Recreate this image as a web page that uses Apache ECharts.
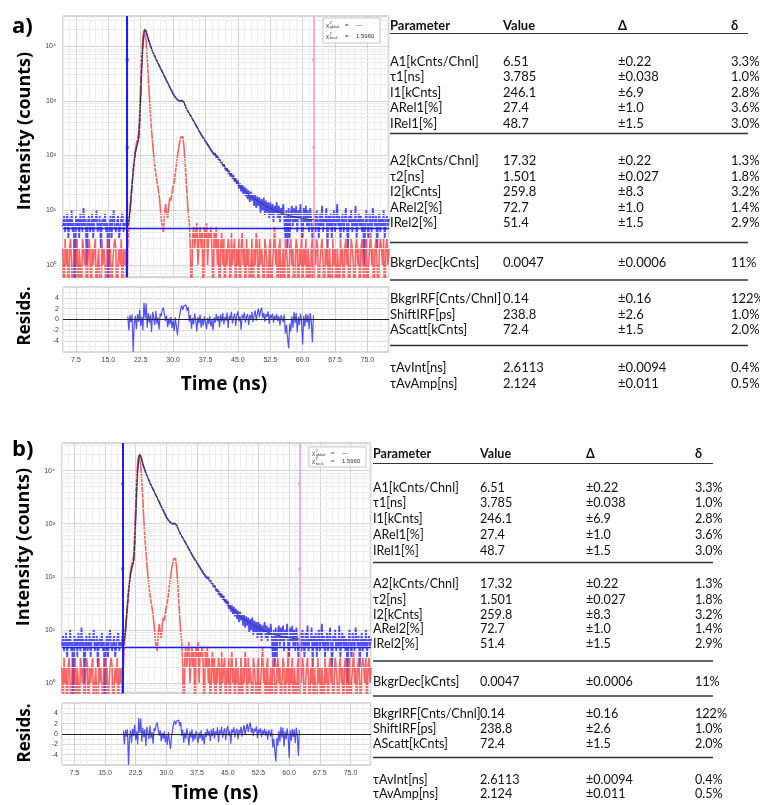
<!DOCTYPE html>
<html>
<head>
<meta charset="utf-8">
<script src="https://cdn.jsdelivr.net/npm/echarts@6/dist/echarts.min.js"></script>
<style>
  html, body { margin: 0; padding: 0; background: #fff; }
  #chart { width: 760px; height: 805px; }
</style>
</head>
<body>
<div id="chart"></div>
<script>
// ---- Histogram channels (TCSPC decay and instrument response) ----
const channelStart = 4.5;   // ns, time of the first channel
const channelWidth = 0.25;  // ns per channel

// Decay counts per channel, 4.5 ns ... 80.0 ns (8 channels = 2 ns per row)
const decayCounts = [
  5, 8, 4, 6, 9, 3, 7, 5,
  10, 4, 6, 0, 8, 5, 7, 3,
  9, 6, 4, 11, 5, 7, 1, 6,
  8, 4, 5, 9, 3, 7, 6, 10,
  4, 5, 8, 2, 6, 7, 5, 9,
  4, 6, 0, 5, 8, 3, 7, 10,
  5, 4, 6, 8, 3, 5, 7, 9,
  4, 6, 5, 8, 6, 7, 10, 17,
  29, 52, 77, 115, 138, 170, 196, 405,
  1310, 4480, 10450, 17350, 20500, 18550, 15850, 13450,
  11650, 10250, 8950, 8030, 7210, 6560, 5860, 5400,
  4880, 4490, 4050, 3740, 3370, 3110, 2800, 2590,
  2320, 2160, 1930, 1800, 1600, 1500, 1330, 1280,
  1160, 1130, 1045, 1040, 985, 1020, 1005, 1040,
  940, 870, 745, 705, 620, 600, 540, 515,
  462, 441, 391, 373, 332, 318, 283, 270,
  239, 236, 207, 206, 181, 180, 156, 157,
  135, 140, 117, 124, 102, 111, 91, 100,
  83, 91, 72, 79, 64, 71, 59, 53,
  60, 46, 53, 41, 48, 37, 44, 33,
  39, 29, 35, 25, 31, 22, 29, 20,
  27, 18, 25, 16, 23, 14, 22, 15,
  20, 12, 19, 11, 18, 12, 17, 9,
  16, 10, 17, 8, 15, 9, 14, 7,
  14, 8, 13, 6, 12, 9, 14, 7,
  12, 6, 11, 8, 13, 7, 3, 10,
  2, 11, 3, 9, 12, 5, 11, 6,
  12, 4, 10, 7, 13, 5, 3, 11,
  6, 12, 5, 10, 4, 11, 7, 3,
  5, 9, 4, 10, 6, 3, 9, 5,
  12, 4, 7, 6, 11, 2, 8, 5,
  9, 3, 7, 10, 4, 6, 13, 5,
  8, 3, 6, 9, 4, 7, 11, 5,
  2, 8, 6, 10, 4, 7, 5, 12,
  3, 6, 9, 5, 8, 4, 7, 1,
  6, 10, 5, 3, 9, 6, 4, 11,
  7, 5, 8, 2, 6, 9, 4, 7,
  5, 10, 3, 6, 8, 5, 7
];

// Instrument response (IRF) counts on the same channels
const irfCounts = [
  2, 0, 3, 1, 2, 0, 2, 3,
  1, 0, 2, 2, 1, 3, 0, 2,
  1, 0, 3, 2, 1, 2, 0, 1,
  3, 2, 0, 2, 1, 2, 3, 0,
  1, 2, 2, 0, 3, 1, 2, 1,
  0, 2, 3, 1, 2, 0, 1, 2,
  3, 2, 0, 1, 2, 1, 3, 0,
  2, 1, 2, 0, 2, 5, 9, 16,
  30, 52, 85, 125, 165, 200, 250, 600,
  2300, 7000, 14500, 19800, 19000, 12500, 6000, 3000,
  1200, 550, 300, 170, 100, 66, 46, 34,
  26, 19, 12, 7, 5, 4, 8, 13,
  9, 7, 12, 17, 15, 21, 27, 33,
  46, 68, 95, 135, 175, 215, 228, 222,
  150, 80, 38, 19, 9, 6, 2, 0,
  3, 5, 2, 4, 6, 1, 3, 5,
  2, 4, 0, 5, 3, 6, 1, 4,
  3, 5, 2, 0, 4, 2, 5, 1,
  3, 0, 2, 4, 1, 3, 0, 2,
  1, 3, 2, 0, 4, 1, 2, 3,
  0, 2, 1, 3, 0, 2, 4, 1,
  2, 0, 3, 1, 2, 0, 1, 3,
  0, 2, 1, 4, 2, 0, 3, 1,
  2, 1, 0, 3, 2, 1, 0, 2,
  3, 0, 1, 2, 5, 1, 2, 0,
  2, 3, 0, 1, 2, 0, 3, 2,
  1, 0, 2, 3, 1, 2, 0, 1,
  3, 2, 0, 2, 1, 4, 0, 2,
  1, 3, 0, 2, 1, 0, 2, 3,
  0, 2, 1, 3, 2, 0, 1, 2,
  3, 1, 0, 2, 1, 3, 0, 2,
  2, 0, 3, 1, 2, 0, 2, 1,
  0, 3, 1, 2, 0, 2, 3, 1,
  2, 0, 1, 3, 2, 1, 0, 2,
  3, 1, 2, 0, 2, 3, 1, 0,
  2, 3, 0, 1, 2, 4, 1, 2,
  0, 2, 3, 1, 0, 2, 3, 2,
  1, 3, 0, 2, 3, 1, 2
];

// Fit window (19.5 ns ... 62.5 ns): model counts and weighted residuals
const fitStart = 19.5;
const fitCounts = [
  5.0, 6.0, 9.5, 16.6, 29.5, 50, 79, 112,
  141, 166, 200, 398, 1320, 4470, 10500, 17400,
  20400, 18600, 15800, 13500, 11700, 10200, 9000, 8000,
  7240, 6530, 5890, 5370, 4900, 4470, 4070, 3720,
  3390, 3090, 2820, 2570, 2340, 2140, 1950, 1780,
  1620, 1480, 1350, 1260, 1175, 1110, 1060, 1023,
  1000, 1000, 1023, 1023, 955, 851, 759, 692,
  631, 589, 550, 507, 468, 432, 398, 367,
  339, 313, 288, 266, 245, 229, 214, 200,
  186, 174, 162, 151, 141, 132, 123, 116,
  110, 104, 97.7, 92.3, 87.1, 82.2, 77.6, 73.3,
  69.2, 65.3, 61.7, 58.2, 55.0, 51.9, 49.0, 46.2,
  43.7, 41.2, 38.9, 36.7, 34.7, 32.7, 30.9, 29.2,
  27.5, 26.3, 25.1, 24.0, 22.9, 21.9, 20.9, 20.0,
  19.3, 18.6, 18.0, 17.4, 16.8, 16.2, 15.7, 15.1,
  14.8, 14.5, 14.1, 13.6, 13.2, 12.9, 12.6, 12.2,
  11.9, 11.6, 11.4, 11.1, 10.8, 10.6, 10.4, 10.1,
  9.9, 9.7, 9.5, 9.3, 9.2, 9.1, 8.9, 8.8,
  8.6, 8.5, 8.4, 8.2, 8.1, 8.0, 7.9, 7.9,
  7.8, 7.7, 7.6, 7.5, 7.4, 7.4, 7.3, 7.2,
  7.2, 7.1, 7.1, 7.0, 7.0, 6.95, 6.9, 6.85,
  6.8, 6.8, 6.75, 6.7, 6.7
];
const residuals = [
  0.6, -2.0, 0.8, -0.5, 0.9, -6.0, -0.8, 0.7,
  -1.8, 1.0, -0.4, 1.8, -1.2, 0.5, -2.0, 3.1,
  0.2, 3.0, -1.5, 1.2, -0.6, 0.9, -2.3, 1.4,
  0.3, -1.0, 1.6, -0.8, 0.4, -1.9, 1.1, 0.6,
  1.8, 2.2, 1.0, -0.3, 0.7, -1.4, 0.2, -0.9,
  0.5, -1.6, -0.2, -2.1, 0.4, -1.2, -2.9, -0.5,
  0.6, 1.9, 2.6, 1.8, 2.5, 2.2, 2.7, 1.6,
  2.3, -0.4, 0.8, -1.7, 0.3, -0.9, 1.1, -0.2,
  -2.2, 0.5, -0.7, 0.9, -1.5, 0.1, -1.1, 0.6,
  -0.5, -1.8, 0.3, -0.8, 0.7, -1.3, -0.1, -2.0,
  0.4, -0.6, 1.0, -0.3, 0.6, -1.4, 0.9, -0.4,
  1.2, -0.9, 0.5, -0.2, 1.3, -1.6, 0.7, 0.1,
  1.4, -0.7, 0.4, 1.1, -1.2, 0.8, 1.5, -0.3,
  0.6, -1.9, 0.9, 0.2, 1.3, -0.6, 0.5, 1.0,
  -1.0, 0.8, 0.1, 1.4, -0.5, 0.7, 1.7, -0.2,
  1.1, 2.0, 0.4, 1.6, 2.2, 0.3, 1.2, -0.4,
  1.0, 0.5, 1.5, -0.8, 0.9, 0.2, 1.1, -0.6,
  0.7, 0.0, 1.0, -0.3, 0.6, -1.1, 0.8, 0.3,
  -0.5, 0.9, -2.6, -1.0, -3.4, -5.3, -0.8, -2.2,
  0.6, -1.5, 1.4, -0.7, 1.2, -2.4, 0.5, -1.0,
  1.1, -0.4, -4.6, 0.7, -1.3, 1.0, -0.6, 0.9,
  -1.8, 1.2, -0.3, -4.2, 0.8
];

// Fit range cursors, their handles and the decay background level
const cursorTimes = [19.35, 62.55];
const cursorHandleCounts = [5600, 140];
const backgroundCounts = 4.7;

// Axes
const timeTickStep = 7.5;
const timeMinorStep = 1.5;
const intensityDecades = [0, 1, 2, 3, 4];
const residTicks = [-4, -2, 0, 2, 4];

// Goodness of fit
const chiGlobal = '---';
const chiLocal = '1.5960';

// Fit parameter table
const tableHeaders = ['Parameter', 'Value', 'Δ', 'δ'];
const paramNames = ['A1[kCnts/Chnl]', 'τ1[ns]', 'I1[kCnts]', 'ARel1[%]', 'IRel1[%]',
  'A2[kCnts/Chnl]', 'τ2[ns]', 'I2[kCnts]', 'ARel2[%]', 'IRel2[%]',
  'BkgrDec[kCnts]', 'BkgrIRF[Cnts/Chnl]', 'ShiftIRF[ps]', 'AScatt[kCnts]',
  'τAvInt[ns]', 'τAvAmp[ns]'];
const paramValues = ['6.51', '3.785', '246.1', '27.4', '48.7',
  '17.32', '1.501', '259.8', '72.7', '51.4',
  '0.0047', '0.14', '238.8', '72.4', '2.6113', '2.124'];
const paramErrors = ['±0.22', '±0.038', '±6.9', '±1.0', '±1.5',
  '±0.22', '±0.027', '±8.3', '±1.0', '±1.5',
  '±0.0006', '±0.16', '±2.6', '±1.5', '±0.0094', '±0.011'];
const paramRelErrors = ['3.3%', '1.0%', '2.8%', '3.6%', '3.0%',
  '1.3%', '1.8%', '3.2%', '1.4%', '2.9%',
  '11%', '122%', '1.0%', '2.0%', '0.4%', '0.5%'];

// ---- Layout ----
const panels = [
  {
    letter: 'a)', letterPos: [12, 27],
    main: { left: 63, top: 16, width: 326, height: 261 },
    resid: { left: 63, top: 287, width: 326, height: 65 },
    yRange: [-0.22, 4.55],
    yTitle: [24.5, 131], residTitle: [25, 316], xTitle: [224, 385],
    chiBox: { x: 323, y: 18, w: 57, h: 25 },
    table: {
      cols: [390, 503, 618, 731], right: 748, headerY: 26, headerRule: 33.5, fontSize: 13,
      rowY: [61.5, 77, 92.5, 108, 123.5, 161, 176.5, 192, 207.5, 223, 262.5, 299, 314.5, 330, 368, 383.5],
      rules: [133.5, 242.5, 280, 345.5]
    }
  },
  {
    letter: 'b)', letterPos: [12, 450],
    main: { left: 62, top: 443, width: 309, height: 250 },
    resid: { left: 62, top: 703, width: 309, height: 62 },
    yRange: [-0.19, 4.52],
    yTitle: [24, 547], residTitle: [25, 733], xTitle: [215, 794],
    chiBox: { x: 309, y: 447, w: 57, h: 20 },
    table: {
      cols: [373, 480, 586, 695], right: 713, headerY: 454, headerRule: 463.5, fontSize: 12.6,
      rowY: [487.5, 503, 518.5, 534.5, 550.5, 584, 599.5, 615, 629, 644, 681.5, 713.5, 728.5, 744, 780, 793.5],
      rules: [562.5, 661, 696, 757.5]
    }
  }
];

const lg = v => (v > 0 ? Math.log10(v) : -1);
const channelTime = i => channelStart + i * channelWidth;
const fitTime = i => fitStart + i * channelWidth;
const decayPts = decayCounts.map((c, i) => [channelTime(i), lg(c)]);
const irfPts = irfCounts.map((c, i) => [channelTime(i), lg(c)]);
const fitPts = fitCounts.map((c, i) => [fitTime(i), lg(c)]);
const residPts = residuals.map((r, i) => [fitTime(i), r]);

const supDigits = ['⁰', '¹', '²', '³', '⁴'];
const isMajorTime = v => Math.abs(v / timeTickStep - Math.round(v / timeTickStep)) < 1e-6;
// grid line colours cycle from 4.5 ns: every fifth line (7.5 ns steps) is darker
const timeGridColors = ['#eeeeee', '#eeeeee', '#d2d2d2', '#eeeeee', '#eeeeee'];

const labelFont = { fontFamily: 'Liberation Sans', fontSize: 7, color: '#444' };

const grids = [], xAxes = [], yAxes = [], series = [], graphics = [];

panels.forEach((p, k) => {
  const gi = grids.length;
  grids.push(Object.assign({ show: true, borderColor: '#b0b0b0', borderWidth: 1, containLabel: false }, p.main));
  grids.push(Object.assign({ show: true, borderColor: '#b0b0b0', borderWidth: 1, containLabel: false }, p.resid));

  const xBase = {
    type: 'value', min: channelStart, max: 80, interval: timeMinorStep,
    axisLine: { show: false }, axisTick: { show: false },
    splitLine: { show: true, lineStyle: { color: timeGridColors, width: 1 } }
  };
  xAxes.push(Object.assign({ gridIndex: gi, axisLabel: { show: false } }, xBase));
  xAxes.push(Object.assign({
    gridIndex: gi + 1,
    axisLabel: Object.assign({
      margin: 5, showMinLabel: true, showMaxLabel: true,
      formatter: v => (isMajorTime(v) && v > channelStart ? v.toFixed(1) : '')
    }, labelFont)
  }, xBase));

  yAxes.push({
    gridIndex: gi, type: 'value', min: p.yRange[0], max: p.yRange[1], splitNumber: 5,
    axisLine: { show: false }, axisTick: { show: false },
    axisLabel: Object.assign({
      margin: 7,
      formatter: v => {
        const r = Math.round(v);
        return (Math.abs(v - r) < 1e-6 && intensityDecades.includes(r)) ? '10' + supDigits[r] : '';
      }
    }, labelFont),
    splitLine: { show: true, lineStyle: { color: '#d2d2d2', width: 1 } }
  });
  yAxes.push({
    gridIndex: gi + 1, type: 'value', min: -6, max: 6, interval: 2,
    axisLine: { show: false }, axisTick: { show: false },
    axisLabel: Object.assign({ margin: 4, formatter: v => (residTicks.includes(v) ? String(v) : '') }, labelFont),
    splitLine: { show: true, lineStyle: { color: '#d8d8d8', width: 1 } },
    minorTick: { show: false, splitNumber: 2 },
    minorSplitLine: { show: true, lineStyle: { color: '#eeeeee', width: 1 } }
  });

  // log-decade minor grid lines (2..9 × 10^n) inside the intensity range
  const minorLogs = [];
  for (let d = -1; d <= 4; d++) {
    for (let m = 2; m <= 9; m++) {
      const v = d + Math.log10(m);
      if (v > p.yRange[0] && v < p.yRange[1]) minorLogs.push({ yAxis: v });
    }
  }
  series.push({
    type: 'line', xAxisIndex: gi, yAxisIndex: gi, data: [], z: 1, silent: true,
    markLine: { silent: true, symbol: ['none', 'none'], label: { show: false },
      lineStyle: { color: '#ececec', width: 1, type: 'solid' }, data: minorLogs }
  });

  series.push({
    name: 'Decay', type: 'line', xAxisIndex: gi, yAxisIndex: gi, data: decayPts,
    symbol: 'none', clip: true, z: 3,
    lineStyle: { color: '#3030ff', width: 1.7, opacity: 0.85, join: 'bevel' }
  });
  series.push({
    name: 'IRF', type: 'line', xAxisIndex: gi, yAxisIndex: gi, data: irfPts,
    symbol: 'none', clip: true, z: 4,
    lineStyle: { color: '#ff3838', width: 1.6, opacity: 0.78, join: 'bevel' }
  });
  series.push({
    name: 'Fit', type: 'line', xAxisIndex: gi, yAxisIndex: gi, data: fitPts,
    symbol: 'none', clip: true, z: 5,
    lineStyle: { color: '#3a3a3a', width: 1 }
  });

  // range cursors with their handles, plus the background level
  const handleColors = ['#2020ff', '#f0a0c8'];
  const handles = [];
  cursorTimes.forEach((t, ci) => cursorHandleCounts.forEach(c => handles.push({
    value: [t, lg(c)], itemStyle: { color: handleColors[ci] }
  })));
  series.push({
    type: 'scatter', xAxisIndex: gi, yAxisIndex: gi, data: handles, symbol: 'rect', symbolSize: 3,
    z: 7, silent: true,
    markLine: {
      silent: true, symbol: ['none', 'none'], label: { show: false },
      data: [
        { xAxis: cursorTimes[0], lineStyle: { color: '#1c1cff', width: 2, type: 'solid' } },
        { xAxis: cursorTimes[1], lineStyle: { color: '#f0a2c6', width: 1.6, type: 'solid' } },
        { yAxis: lg(backgroundCounts), lineStyle: { color: '#1c1cff', width: 1.3, type: 'solid' } }
      ]
    }
  });

  series.push({
    name: 'Residuals', type: 'line', xAxisIndex: gi + 1, yAxisIndex: gi + 1, data: residPts,
    symbol: 'none', clip: true, z: 3,
    lineStyle: { color: '#3434ff', width: 1.2, opacity: 0.85, join: 'bevel' },
    markLine: { silent: true, symbol: ['none', 'none'], label: { show: false },
      data: [{ yAxis: 0 }], lineStyle: { color: '#222', width: 1.2, type: 'solid' } }
  });

  // ---- titles ----
  graphics.push({ type: 'text', x: p.letterPos[0], y: p.letterPos[1],
    style: { text: p.letter, font: 'bold 22px "Open Sans"', fill: '#000', align: 'left', verticalAlign: 'middle' } });
  graphics.push({ type: 'text', x: p.yTitle[0], y: p.yTitle[1], rotation: Math.PI / 2,
    style: { text: 'Intensity (counts)', font: 'bold 18px "Open Sans"', fill: '#000', align: 'center', verticalAlign: 'middle' } });
  graphics.push({ type: 'text', x: p.residTitle[0], y: p.residTitle[1], rotation: Math.PI / 2,
    style: { text: 'Resids.', font: 'bold 17px "Open Sans"', fill: '#000', align: 'center', verticalAlign: 'middle' } });
  graphics.push({ type: 'text', x: p.xTitle[0], y: p.xTitle[1],
    style: { text: 'Time (ns)', font: 'bold 19px "Open Sans"', fill: '#000', align: 'center', verticalAlign: 'middle' } });

  // ---- chi-square box ----
  const b = p.chiBox;
  const rowA = b.y + b.h * 0.3, rowB = b.y + b.h * 0.74;
  const chiFont = '6px "Liberation Sans"';
  const tiny = '3.6px "Liberation Sans"';
  graphics.push({ type: 'rect', shape: { x: b.x, y: b.y, width: b.w, height: b.h },
    style: { fill: '#fff', stroke: '#c8c8c8', lineWidth: 1 }, z: 10 });
  [[rowA, 'global', chiGlobal], [rowB, 'local', chiLocal]].forEach(([ry, sub, val]) => {
    graphics.push({ type: 'text', x: b.x + 3, y: ry, z: 11, style: { text: 'χ', font: chiFont, fill: '#333', verticalAlign: 'middle' } });
    graphics.push({ type: 'text', x: b.x + 6.8, y: ry - 2.4, z: 11, style: { text: '2', font: tiny, fill: '#333', verticalAlign: 'middle' } });
    graphics.push({ type: 'text', x: b.x + 6.8, y: ry + 1.8, z: 11, style: { text: sub, font: tiny, fill: '#333', verticalAlign: 'middle' } });
    graphics.push({ type: 'text', x: b.x + 22, y: ry, z: 11, style: { text: '=', font: chiFont, fill: '#333', verticalAlign: 'middle' } });
    graphics.push({ type: 'text', x: b.x + 33, y: ry, z: 11, style: { text: val, font: chiFont, fill: '#333', verticalAlign: 'middle' } });
  });

  // ---- parameter table ----
  const tb = p.table;
  const bodyFont = tb.fontSize + 'px Lato';
  const headFont = 'bold ' + tb.fontSize + 'px Lato';
  tableHeaders.forEach((h, ci) => graphics.push({ type: 'text', x: tb.cols[ci], y: tb.headerY,
    style: { text: h, font: headFont, fill: '#111', verticalAlign: 'middle' } }));
  const rule = (y, w) => graphics.push({ type: 'line', shape: { x1: tb.cols[0], y1: y, x2: tb.right, y2: y },
    style: { stroke: '#333', lineWidth: w } });
  rule(tb.headerRule, 1.2);
  tb.rules.forEach(y => rule(y, 1.4));
  paramNames.forEach((name, ri) => {
    const y = tb.rowY[ri];
    [name, paramValues[ri], paramErrors[ri], paramRelErrors[ri]].forEach((txt, ci) => graphics.push({
      type: 'text', x: tb.cols[ci], y: y, style: { text: txt, font: bodyFont, fill: '#111', verticalAlign: 'middle' } }));
  });
});

const chart = echarts.init(document.getElementById('chart'), null, { renderer: 'canvas' });
chart.setOption({
  animation: false,
  backgroundColor: '#fff',
  grid: grids,
  xAxis: xAxes,
  yAxis: yAxes,
  series: series,
  graphic: graphics
});
</script>
</body>
</html>
